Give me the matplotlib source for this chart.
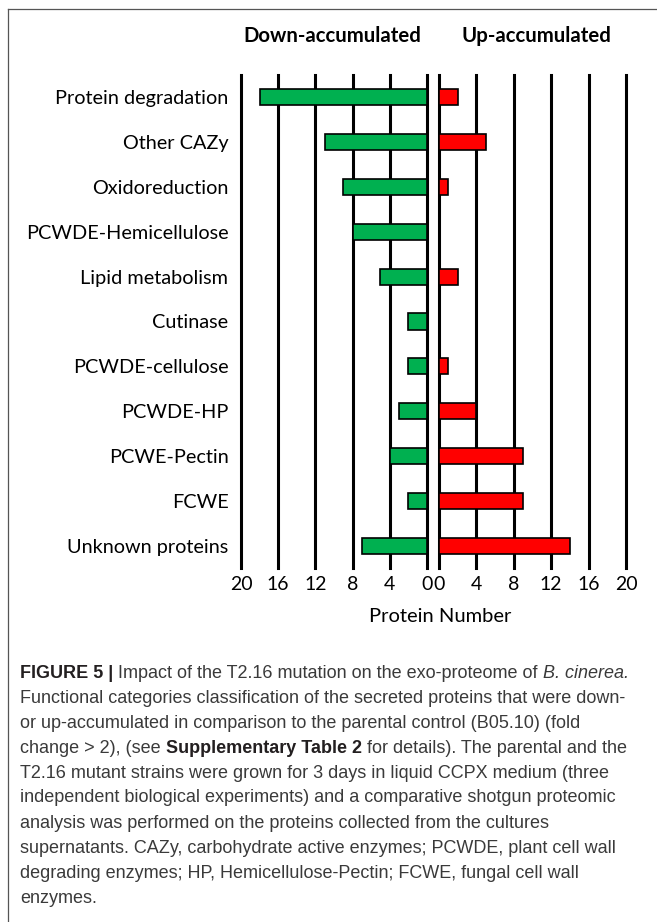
import numpy as np
import matplotlib
matplotlib.use("Agg")
import matplotlib.pyplot as plt

# data
categories = ["Protein degradation", "Other CAZy", "Oxidoreduction",
              "PCWDE-Hemicellulose", "Lipid metabolism", "Cutinase",
              "PCWDE-cellulose", "PCWDE-HP", "PCWE-Pectin", "FCWE",
              "Unknown proteins"]
down_counts = [18, 11, 9, 8, 5, 2, 2, 3, 4, 2, 7]
up_counts = [2, 5, 1, 0, 2, 0, 1, 4, 9, 9, 14]
ticks = [0, 4, 8, 12, 16, 20]

W, H = 657, 922
fig = plt.figure(figsize=(W / 100, H / 100), dpi=100)
plt.rcParams['font.family'] = ['Lato', 'DejaVu Sans']


def px_box(x0, x1, ytop, ybot):
    return [x0 / W, 1 - ybot / H, (x1 - x0) / W, (ybot - ytop) / H]


ax_down = fig.add_axes(px_box(241, 427, 75, 568))
ax_up = fig.add_axes(px_box(439, 626, 75, 568))

y = np.arange(len(categories))
ax_down.barh(y, down_counts, height=0.36, color="#00B050",
             edgecolor="black", linewidth=1.2, zorder=3)
ax_up.barh(y, up_counts, height=0.36, color="#FF0000",
           edgecolor="black", linewidth=1.2, zorder=3)

for ax in (ax_down, ax_up):
    ax.set_xlim(0, 20)
    ax.set_ylim(len(categories) - 0.5, -0.5)
    for t in ticks:
        ax.axvline(t, color="black", lw=2.2, zorder=2, clip_on=False)
    ax.set_xticks(ticks)
    ax.tick_params(axis='x', length=0, pad=6, labelsize=14)
    for s in ax.spines.values():
        s.set_visible(False)
    ax.set_yticks([])

ax_down.invert_xaxis()
ax_down.set_yticks(y, categories)
ax_down.tick_params(axis='y', length=0, pad=9, labelsize=14.3)

fig.text(332 / W, 1 - 36 / H, "Down-accumulated", ha="center", va="center",
         fontsize=14.7, fontweight="bold")
fig.text(536 / W, 1 - 36 / H, "Up-accumulated", ha="center", va="center",
         fontsize=14.7, fontweight="bold")
fig.text(440 / W, 1 - 617 / H, "Protein Number", ha="center", va="center",
         fontsize=14.5)

# frame lines (left and top)
fig.add_artist(plt.Line2D([8 / W, 8 / W], [0, 1 - 9 / H], color="#555555",
                          lw=0.9, transform=fig.transFigure))
fig.add_artist(plt.Line2D([8 / W, 1], [1 - 9 / H, 1 - 9 / H], color="#555555",
                          lw=0.9, transform=fig.transFigure))

# caption, drawn run by run
cap_font = ['Liberation Sans Narrow', 'Liberation Sans', 'DejaVu Sans']
caption = [
    [("FIGURE 5 | ", "bold", "normal"),
     ("Impact of the T2.16 mutation on the exo-proteome of ", "normal", "normal"),
     ("B. cinerea.", "normal", "italic")],
    [("Functional categories classification of the secreted proteins that were down-", "normal", "normal")],
    [("or up-accumulated in comparison to the parental control (B05.10) (fold", "normal", "normal")],
    [("change > 2), (see ", "normal", "normal"),
     ("Supplementary Table 2", "bold", "normal"),
     (" for details). The parental and the", "normal", "normal")],
    [("T2.16 mutant strains were grown for 3 days in liquid CCPX medium (three", "normal", "normal")],
    [("independent biological experiments) and a comparative shotgun proteomic", "normal", "normal")],
    [("analysis was performed on the proteins collected from the cultures", "normal", "normal")],
    [("supernatants. CAZy, carbohydrate active enzymes; PCWDE, plant cell wall", "normal", "normal")],
    [("degrading enzymes; HP, Hemicellulose-Pectin; FCWE, fungal cell wall", "normal", "normal")],
    [("enzymes.", "normal", "normal")],
]

renderer = fig.canvas.get_renderer()
for i, line in enumerate(caption):
    x = 20
    ypix = 673 + i * 25
    for txt, weight, style in line:
        color = "#231f20" if weight == "bold" else "#3a3a3a"
        t = fig.text(x / W, 1 - ypix / H, txt, ha="left", va="center",
                     fontsize=13, fontweight=weight, fontstyle=style,
                     family=cap_font, color=color)
        bb = t.get_window_extent(renderer=renderer)
        x += bb.width

fig.savefig("out.png", dpi=100)
